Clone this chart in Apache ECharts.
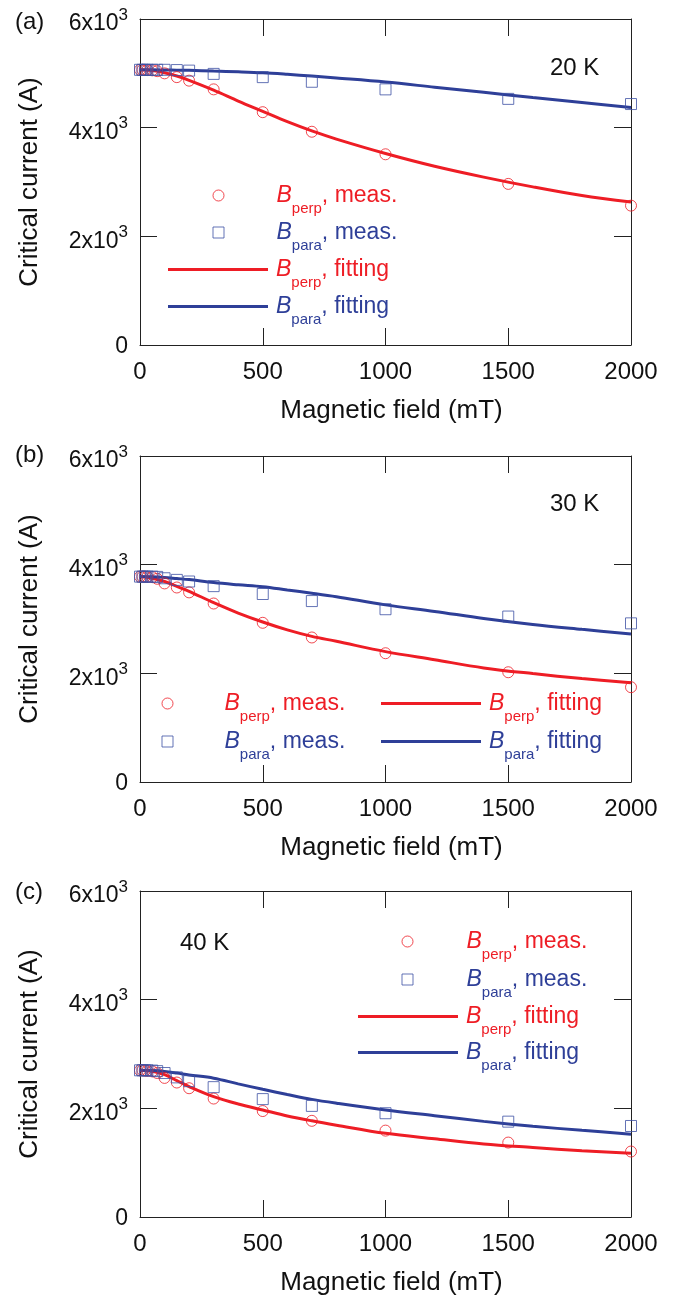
<!DOCTYPE html>
<html><head><meta charset="utf-8">
<script src="https://cdn.jsdelivr.net/npm/echarts@6/dist/echarts.min.js"></script>
<style>html,body{margin:0;padding:0;background:#fff}#c{width:687px;height:1301px}</style>
</head><body><div id="c"></div>
<script>
// ---- data ----
const fieldMeas = [0, 10, 20, 30, 50, 70, 100, 150, 200, 300, 500, 700, 1000, 1500, 2000];
const fieldFit  = [0, 50, 100, 150, 200, 300, 400, 500, 600, 700, 800, 1000, 1200, 1400, 1600, 1800, 2000];

const aPerpMeas = [5065, 5065, 5060, 5060, 5055, 5040, 5000, 4930, 4865, 4705, 4285, 3925, 3510, 2965, 2565];
const aParaMeas = [5065, 5065, 5065, 5065, 5065, 5065, 5065, 5060, 5050, 4990, 4930, 4845, 4705, 4530, 4435];
const aPerpFit  = [5065, 5050, 5010, 4950, 4870, 4690, 4490, 4300, 4110, 3940, 3790, 3525, 3290, 3090, 2910, 2750, 2630];
const aParaFit  = [5065, 5065, 5062, 5058, 5055, 5042, 5028, 5010, 4982, 4950, 4915, 4840, 4745, 4650, 4555, 4465, 4370];

const bPerpMeas = [3780, 3780, 3780, 3775, 3770, 3740, 3655, 3580, 3490, 3285, 2930, 2660, 2370, 2020, 1745];
const bParaMeas = [3780, 3780, 3780, 3780, 3780, 3775, 3750, 3720, 3690, 3605, 3460, 3330, 3180, 3045, 2920];
const bPerpFit  = [3780, 3750, 3690, 3600, 3510, 3300, 3110, 2945, 2800, 2680, 2590, 2400, 2250, 2100, 1995, 1905, 1825];
const bParaFit  = [3780, 3778, 3765, 3745, 3725, 3670, 3630, 3595, 3535, 3475, 3410, 3260, 3140, 3010, 2900, 2810, 2725];

const cPerpMeas = [2700, 2700, 2695, 2690, 2680, 2650, 2560, 2475, 2370, 2180, 1950, 1770, 1590, 1370, 1205];
const cParaMeas = [2700, 2700, 2700, 2700, 2695, 2685, 2650, 2570, 2500, 2390, 2170, 2045, 1910, 1755, 1675];
const cPerpFit  = [2700, 2680, 2620, 2510, 2400, 2215, 2080, 1970, 1860, 1770, 1690, 1540, 1440, 1345, 1280, 1220, 1175];
const cParaFit  = [2700, 2695, 2680, 2650, 2615, 2555, 2450, 2350, 2255, 2165, 2095, 1970, 1865, 1760, 1670, 1595, 1525];

const xTickInterval = 500;
const yTickInterval = 2000;
const panelLabels = ['(a)', '(b)', '(c)'];
const tempLabels = ['20 K', '30 K', '40 K'];

// ---- styling ----
const RED = '#ee1d25', BLUE = '#2e3f98', BLUE_M = '#3d50a4', INK = '#111';
const FONT = '"Liberation Sans", Arial, Helvetica, sans-serif';
const gridTops = [19, 456, 891];
const GL = 140, GW = 491, GH = 326;

const panels = [
  {perpMeas: aPerpMeas, paraMeas: aParaMeas, perpFit: aPerpFit, paraFit: aParaFit},
  {perpMeas: bPerpMeas, paraMeas: bParaMeas, perpFit: bPerpFit, paraFit: bParaFit},
  {perpMeas: cPerpMeas, paraMeas: cParaMeas, perpFit: cPerpFit, paraFit: cParaFit}
];

const zip = (xs, ys) => xs.map((x, i) => [x, ys[i]]);
const axisLineStyle = {color: '#222', width: 1};

const grid = [], xAxis = [], yAxis = [], series = [], legend = [], graphic = [];

panels.forEach((p, i) => {
  grid.push({left: GL, top: gridTops[i], width: GW, height: GH});
  const xBase = {gridIndex: i, type: 'value', min: 0, max: 2000, interval: xTickInterval,
    axisLine: {show: true, onZero: false, lineStyle: axisLineStyle},
    axisTick: {show: true, inside: true, length: 17, lineStyle: axisLineStyle},
    splitLine: {show: false}};
  xAxis.push(Object.assign({}, xBase, {position: 'bottom',
    axisLabel: {fontSize: 24, margin: 15, color: INK, fontFamily: FONT, formatter: v => String(v)},
    name: 'Magnetic field (mT)', nameLocation: 'middle', nameGap: 53,
    nameTextStyle: {fontSize: 26, color: INK, fontFamily: FONT, padding: [0, 0, 0, 12]}}));
  xAxis.push(Object.assign({}, xBase, {position: 'top', axisLabel: {show: false}}));
  const yBase = {gridIndex: i, type: 'value', min: 0, max: 6000, interval: yTickInterval,
    axisLine: {show: true, onZero: false, lineStyle: axisLineStyle},
    axisTick: {show: true, inside: true, length: 17, lineStyle: axisLineStyle},
    splitLine: {show: false}};
  yAxis.push(Object.assign({}, yBase, {position: 'left',
    axisLabel: {margin: 12, color: INK, fontFamily: FONT,
      formatter: v => v === 0 ? '{z|0}' : '{m|' + (v / 1000) + 'x10}{s|3}',
      rich: {
        z: {fontSize: 23, lineHeight: 24, verticalAlign: 'middle', color: INK, fontFamily: FONT, padding: [3, 0, 0, 0]},
        m: {fontSize: 23, lineHeight: 33, verticalAlign: 'bottom', color: INK, fontFamily: FONT},
        s: {fontSize: 17, lineHeight: 33, verticalAlign: 'top', color: INK, fontFamily: FONT, padding: [4, 0, 0, 0]}
      }},
    name: 'Critical current (A)', nameLocation: 'middle', nameGap: 97, nameRotate: 90,
    nameTextStyle: {fontSize: 26, color: INK, fontFamily: FONT}}));
  yAxis.push(Object.assign({}, yBase, {position: 'right', axisLabel: {show: false}}));

  const ax = {xAxisIndex: 2 * i, yAxisIndex: 2 * i};
  series.push(Object.assign({name: 'perpFit' + i, type: 'line', symbol: 'none', smooth: 0.35,
    lineStyle: {color: RED, width: 3}, itemStyle: {color: RED}, z: 2,
    data: zip(fieldFit, p.perpFit)}, ax));
  series.push(Object.assign({name: 'paraFit' + i, type: 'line', symbol: 'none', smooth: 0.35,
    lineStyle: {color: BLUE, width: 3}, itemStyle: {color: BLUE}, z: 2,
    data: zip(fieldFit, p.paraFit)}, ax));
  series.push(Object.assign({name: 'perpMeas' + i, type: 'scatter', symbol: 'circle', symbolSize: 11,
    itemStyle: {color: 'rgba(0,0,0,0)', borderColor: RED, borderWidth: 1}, z: 3,
    data: zip(fieldMeas, p.perpMeas)}, ax));
  series.push(Object.assign({name: 'paraMeas' + i, type: 'scatter', symbol: 'rect', symbolSize: 11,
    itemStyle: {color: 'rgba(0,0,0,0)', borderColor: BLUE_M, borderWidth: 1}, z: 3,
    data: zip(fieldMeas, p.paraMeas)}, ax));
});

// ---- legends: one per row ----
const LEG_HALF = 11;
function richFor(color) {
  return {
    sp: {width: 4, fontSize: 10},
    B: {fontSize: 23, fontStyle: 'italic', lineHeight: 42, verticalAlign: 'middle', color: color, fontFamily: FONT},
    s: {fontSize: 15, lineHeight: 16, verticalAlign: 'bottom', color: color, fontFamily: FONT},
    t: {fontSize: 23, lineHeight: 42, verticalAlign: 'middle', color: color, fontFamily: FONT}
  };
}
const legendText = {perpMeas: ['perp', 'meas.'], paraMeas: ['para', 'meas.'], perpFit: ['perp', 'fitting'], paraFit: ['para', 'fitting']};
// iconX: centre of marker (meas.) or left end of line (fitting); textX: where text starts
function legendRow(key, panel, iconX, rowY, textX) {
  const isPerp = key.indexOf('perp') === 0;
  const isMeas = key.indexOf('Meas') > 0;
  const color = isPerp ? RED : BLUE;
  const rich = richFor(color);
  let left, iw, ih;
  const item = {name: key + panel};
  if (isMeas) {
    iw = 11; ih = 11; left = iconX - 5.5;
    item.icon = isPerp ? 'circle' : 'rect';
    item.itemStyle = {color: 'rgba(0,0,0,0)', borderColor: isPerp ? RED : BLUE_M, borderWidth: 1};
  } else {
    iw = 100; ih = 3; left = iconX;
    item.icon = 'rect';
    item.itemStyle = {color: color, borderWidth: 0};
  }
  rich.sp.width = Math.max(1, textX - (left + iw + 5) - 2);
  legend.push({
    data: [item], left: left, top: rowY - LEG_HALF, padding: 0, itemWidth: iw, itemHeight: ih,
    itemGap: 0, selectedMode: false, orient: 'horizontal',
    formatter: () => '{sp| }{B|B}{s|' + legendText[key][0] + '}{t|, ' + legendText[key][1] + '}',
    textStyle: {rich: rich, color: color}
  });
}
// (a)
legendRow('perpMeas', 0, 218, 195, 278);
legendRow('paraMeas', 0, 218, 232, 278);
legendRow('perpFit', 0, 168, 269, 278);
legendRow('paraFit', 0, 168, 306, 278);
// (b)
legendRow('perpMeas', 1, 167, 703, 226);
legendRow('paraMeas', 1, 167, 741, 226);
legendRow('perpFit', 1, 381, 703, 491);
legendRow('paraFit', 1, 381, 741, 491);
// (c)
legendRow('perpMeas', 2, 407, 941, 468);
legendRow('paraMeas', 2, 407, 979, 468);
legendRow('perpFit', 2, 358, 1016, 468);
legendRow('paraFit', 2, 358, 1052, 468);

// ---- annotation texts ----
const labelY = [22, 455, 892];
const tempPos = [[550, 68], [550, 504], [180, 943]];
panelLabels.forEach((t, i) => {
  graphic.push({type: 'text', x: 15, y: labelY[i], style: {text: t, fontSize: 24, fontFamily: FONT, fill: INK, verticalAlign: 'middle'}});
  graphic.push({type: 'text', x: tempPos[i][0], y: tempPos[i][1], style: {text: tempLabels[i], fontSize: 24, fontFamily: FONT, fill: INK, verticalAlign: 'middle'}});
});

const chart = echarts.init(document.getElementById('c'), null, {renderer: 'canvas'});
chart.setOption({animation: false, backgroundColor: '#fff', grid, xAxis, yAxis, series, legend, graphic});
</script></body></html>
